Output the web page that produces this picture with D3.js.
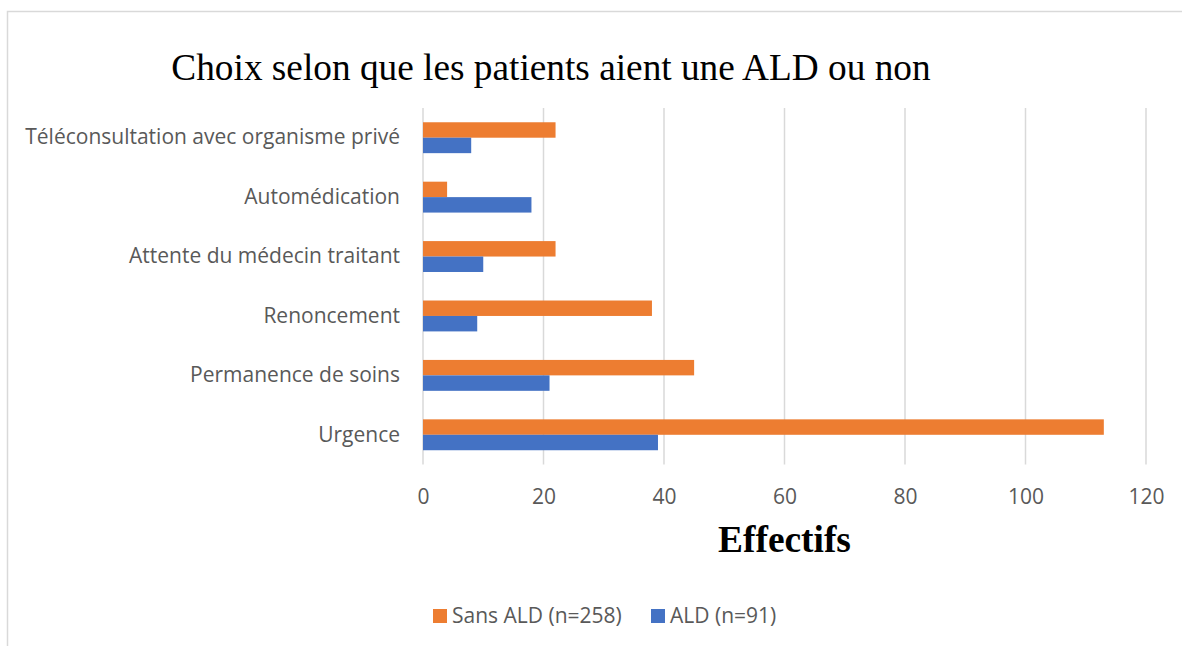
<!DOCTYPE html>
<html>
<head>
<meta charset="utf-8">
<script src="https://cdn.jsdelivr.net/npm/d3@7"></script>
<style>
  body { margin: 0; background: #fff; }
  svg { display: block; }
</style>
</head>
<body>
<div id="chart"></div>
<script>
// data
const categories = ['Téléconsultation avec organisme privé', 'Automédication', 'Attente du médecin traitant', 'Renoncement', 'Permanence de soins', 'Urgence'];
const seriesNames = ['Sans ALD (n=258)', 'ALD (n=91)'];
const sansAld = [22, 4, 22, 38, 45, 113];
const ald = [8, 18, 10, 9, 21, 39];
const xTicks = [0, 20, 40, 60, 80, 100, 120];
const colors = ['#ED7D31', '#4472C4'];

const width = 1182, height = 646;
const margin = { top: 108, right: 36, bottom: 181.5, left: 423 };
const canvasWidth = width - margin.left - margin.right;
const canvasHeight = height - margin.top - margin.bottom;
const labelFont = '"Open Sans", Lato, sans-serif';

const rows = categories.map((c, i) => ({ name: c, values: [sansAld[i], ald[i]] }));

const svg = d3.select('#chart').append('svg')
  .attr('width', width)
  .attr('height', height);

svg.append('rect')
  .attr('x', 7.5).attr('y', 11.5)
  .attr('width', width + 10).attr('height', height + 10)
  .attr('fill', 'white')
  .attr('stroke', '#d9d9d9')
  .attr('stroke-width', 1.5);

const g = svg.append('g')
  .attr('transform', `translate(${margin.left}, ${margin.top})`);

const x = d3.scaleLinear().domain([0, 120]).range([0, canvasWidth]);
const y = d3.scaleBand().domain(categories).range([0, canvasHeight]).paddingInner(0.48).paddingOuter(0.24);
const ySub = d3.scaleBand().domain(d3.range(seriesNames.length)).range([0, y.bandwidth()]);

// gridlines
g.append('g')
  .selectAll('line')
  .data(xTicks)
  .enter().append('line')
  .attr('x1', d => x(d)).attr('x2', d => x(d))
  .attr('y1', 0).attr('y2', canvasHeight)
  .attr('stroke', '#d9d9d9')
  .attr('stroke-width', 1.5);

// bars
const groups = g.selectAll('.group')
  .data(rows)
  .enter().append('g')
  .attr('class', 'group')
  .attr('transform', d => `translate(0, ${y(d.name)})`);

groups.selectAll('rect')
  .data(d => d.values)
  .enter().append('rect')
  .attr('x', x(0))
  .attr('y', (d, i) => ySub(i))
  .attr('width', d => x(d) - x(0))
  .attr('height', ySub.bandwidth())
  .attr('fill', (d, i) => colors[i]);

// y axis labels
g.append('g')
  .attr('class', 'axis axis--y')
  .call(d3.axisLeft(y).tickSize(0).tickPadding(23))
  .call(a => a.select('.domain').remove())
  .selectAll('text')
  .attr('font-size', '21px')
  .attr('font-family', labelFont)
  .attr('fill', '#595959');

// x axis labels
g.append('g')
  .attr('class', 'axis axis--x')
  .attr('transform', `translate(0, ${canvasHeight})`)
  .call(d3.axisBottom(x).tickValues(xTicks).tickSize(0).tickPadding(24.5))
  .call(a => a.select('.domain').remove())
  .selectAll('text')
  .attr('font-size', '21px')
  .attr('font-family', labelFont)
  .attr('fill', '#595959');

// title
svg.append('text')
  .attr('x', 551).attr('y', 80)
  .attr('text-anchor', 'middle')
  .attr('font-family', '"Liberation Serif", "Times New Roman", serif')
  .attr('font-size', '37.3px')
  .attr('fill', '#000')
  .text('Choix selon que les patients aient une ALD ou non');

// x axis title
svg.append('text')
  .attr('x', margin.left + canvasWidth / 2).attr('y', 552)
  .attr('text-anchor', 'middle')
  .attr('font-family', '"Liberation Serif", "Times New Roman", serif')
  .attr('font-weight', 'bold')
  .attr('font-size', '37.4px')
  .attr('fill', '#000')
  .text('Effectifs');

// legend
const legendX = [433, 651];
const legend = svg.append('g').attr('class', 'legend');
seriesNames.forEach((name, i) => {
  legend.append('rect')
    .attr('x', legendX[i]).attr('y', 609)
    .attr('width', 14).attr('height', 14)
    .attr('fill', colors[i]);
  legend.append('text')
    .attr('x', legendX[i] + 19).attr('y', 623)
    .attr('font-family', labelFont)
    .attr('font-size', '21px')
    .attr('fill', '#595959')
    .text(name);
});
</script>
</body>
</html>
